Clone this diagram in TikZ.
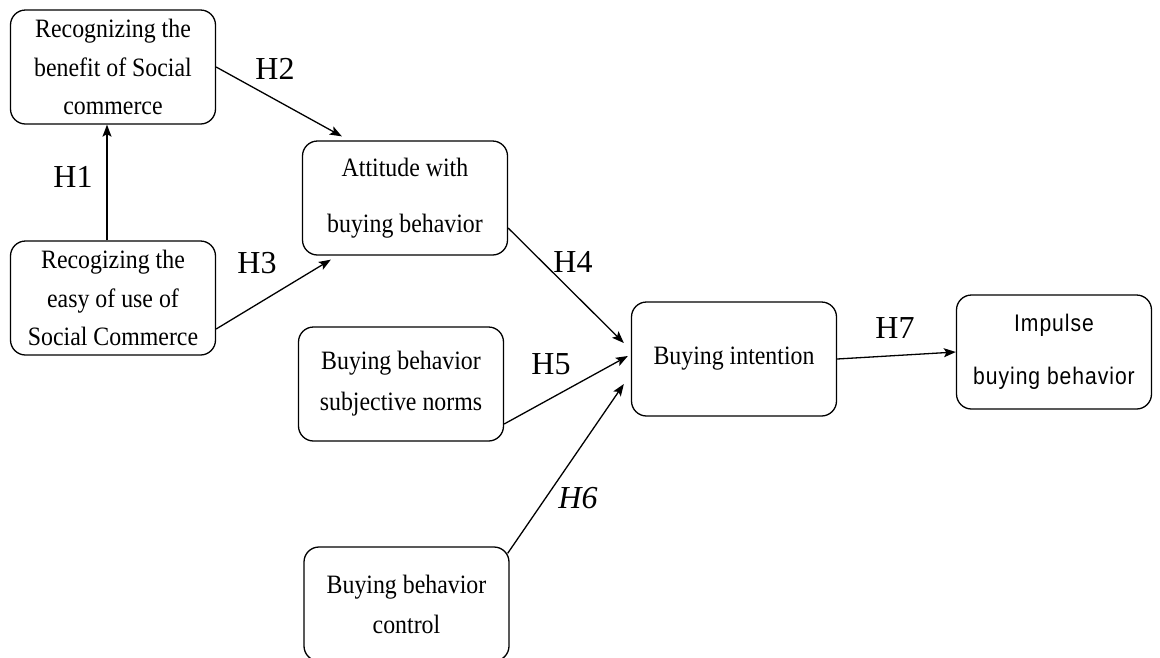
\documentclass[tikz,border=0pt]{standalone}
\usepackage{fontspec}
\setmainfont{Liberation Serif}[FakeStretch=0.9]
\newfontfamily\hypfont{Liberation Serif}
\newfontfamily\impulsefont{Liberation Sans}[FakeStretch=0.88,LetterSpace=4]
\usetikzlibrary{positioning,arrows.meta}

\begin{document}
\begin{tikzpicture}[>={Stealth[length=12pt,width=9pt,inset=2.5pt]}, x=1pt, y=-1pt, on grid,
  box/.style={draw, line width=1.3pt, rounded corners=15pt, minimum width=205pt,
    minimum height=114pt, inner sep=0pt, align=center, font=\fontsize{26.5}{38.5}\selectfont},
  hyp/.style={font=\hypfont\fontsize{32}{34}\selectfont},
  link/.style={->, line width=1.3pt}]
  \useasboundingbox (0,0) rectangle (1160,657);
  \node[box] (benefit) at (113,67) {Recognizing the\\benefit of Social\\commerce};
  \node[box] [below=231pt of benefit] (easy) {Recogizing the\\easy of use of\\Social Commerce};
  \node[box, font=\fontsize{26.5}{56}\selectfont] [below right=131pt and 292pt of benefit] (attitude) {Attitude with\\buying behavior};
  \node[box, font=\fontsize{26.5}{41}\selectfont] [below left=186pt and 4pt of attitude] (norms) {Buying behavior\\subjective norms};
  \node[box, font=\fontsize{26.5}{40}\selectfont] [below right=220pt and 5.5pt of norms] (control) {Buying behavior\\control};
  \node[box] [above right=25pt and 333pt of norms] (intention) {\raisebox{6pt}{Buying intention}};
  \node[box, minimum width=195pt, font=\impulsefont\fontsize{24}{53}\selectfont] [above right=7pt and 320pt of intention] (impulse) {Impulse\\buying behavior};

  \node[hyp] (h1) at (73,177) {H1};
  \node[hyp] (h2) at (275,69) {H2};
  \node[hyp] (h3) at (257,263) {H3};
  \node[hyp] (h4) at (573,262) {H4};
  \node[hyp] (h5) at (551,364) {H5};
  \node[hyp] (h6) at (578,498) {\itshape H6};
  \node[hyp] (h7) at (895,328) {H7};

  \draw[link] ([xshift=-6pt]easy.north) -- ([xshift=-6pt]benefit.south);
  \draw[link] (benefit.east) -- ([xshift=40pt,yshift=4pt]attitude.north west);
  \draw[link] ([yshift=-31pt]easy.east) -- ([xshift=29pt,yshift=-4pt]attitude.south west);
  \draw[link] ([yshift=-30pt]attitude.east) -- ([xshift=-7pt,yshift=16pt]intention.west);
  \draw[link] ([yshift=-40pt]norms.east) -- ([xshift=-3pt,yshift=3pt]intention.west);
  \draw[link] ([xshift=-2pt,yshift=-7pt]control.north east) -- ([xshift=-7pt,yshift=-25pt]intention.west);
  \draw[link] (intention.east) -- (impulse.west);

\end{tikzpicture}
\end{document}
